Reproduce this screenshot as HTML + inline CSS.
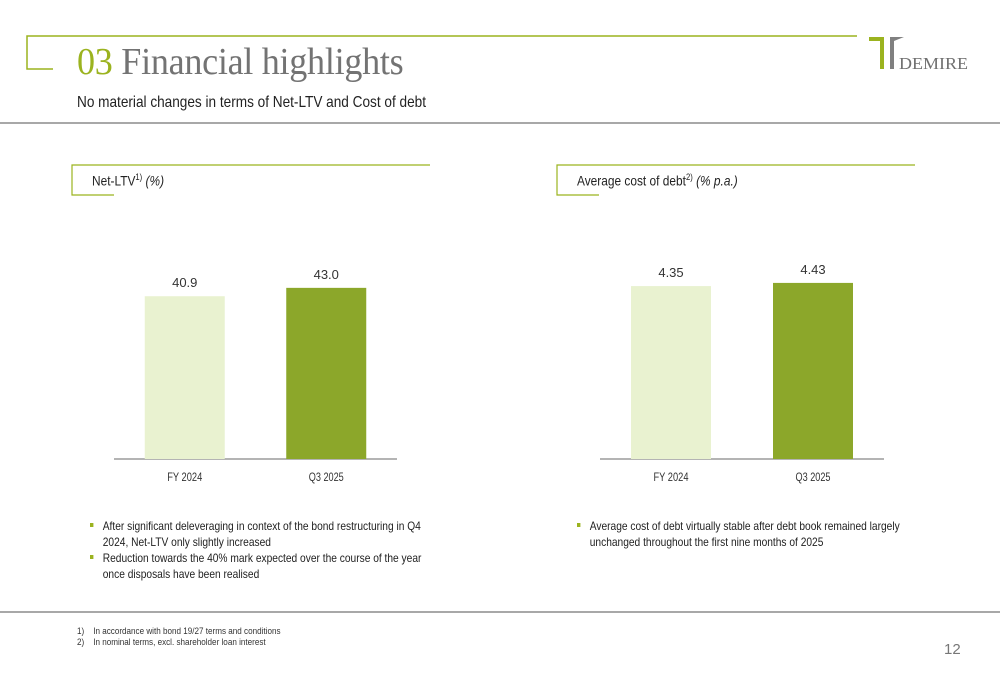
<!DOCTYPE html>
<html><head><meta charset="utf-8">
<style>
body{margin:0;width:1000px;height:685px;background:#fff;position:relative;overflow:hidden;font-family:"Liberation Sans",sans-serif;color:#222}
.abs{position:absolute}
.nar{transform:scaleX(0.85);transform-origin:0 0}
.title{left:77px;top:40px;font-family:"Liberation Serif",serif;font-size:38px;color:#737373;white-space:nowrap;letter-spacing:-0.3px;transform:scaleX(0.95);transform-origin:0 0}
.title span{color:#9bb31f}
.sub{left:77px;top:94px;font-size:16px;white-space:nowrap}
.box-title{font-size:14px;white-space:nowrap}
.bul{font-size:12px;line-height:16px}
.bul div{position:relative;padding-left:15px}
.bul div:before{content:"";position:absolute;left:0;top:5px;width:4px;height:4px;background:#9bb31f}
.foot{font-size:9px;color:#333;white-space:nowrap;transform:scaleX(0.9);transform-origin:0 0}
</style></head><body>
<svg class="abs" style="left:0;top:0" width="1000" height="685">
<polyline points="857,36 27,36 27,69 53,69" fill="none" stroke="#9bb31f" stroke-width="1.5"/>
<line x1="0" y1="123" x2="1000" y2="123" stroke="#8c8c8c" stroke-width="1.5"/>
<polyline points="430,165 72,165 72,195 114,195" fill="none" stroke="#9bb31f" stroke-width="1.2"/>
<polyline points="915,165 557,165 557,195 599,195" fill="none" stroke="#9bb31f" stroke-width="1.2"/>
<line x1="0" y1="612" x2="1000" y2="612" stroke="#8c8c8c" stroke-width="1.5"/>
<g>
<polygon points="869,37 884,37 884,69 880,69 880,41 869,41" fill="#9bb31f"/>
<polygon points="890,69 890,37 904,37 894,41 894,69" fill="#808080"/>
<text x="899" y="69" font-family="Liberation Serif,serif" font-size="17" fill="#707070" textLength="69" lengthAdjust="spacingAndGlyphs">DEMIRE</text>
</g>
</svg>
<div class="abs title"><span>03</span> Financial highlights</div>
<div class="abs sub nar">No material changes in terms of Net-LTV and Cost of debt</div>
<div class="abs box-title nar" style="left:92px;top:172px">Net-LTV<sup style="font-size:9px">1)</sup> <i>(%)</i></div>
<div class="abs box-title nar" style="left:577px;top:172px">Average cost of debt<sup style="font-size:9px">2)</sup> <i>(% p.a.)</i></div>
<svg id="charts" class="abs" style="left:0;top:0" width="1000" height="685"></svg>
<div class="abs bul nar" style="left:90px;top:518px;width:400px">
<div>After significant deleveraging in context of the bond restructuring in Q4 2024, Net-LTV only slightly increased</div>
<div>Reduction towards the 40% mark expected over the course of the year once disposals have been realised</div>
</div>
<div class="abs bul nar" style="left:577px;top:518px;width:390px">
<div>Average cost of debt virtually stable after debt book remained largely unchanged throughout the first nine months of 2025</div>
</div>
<div class="abs foot" style="left:77px;top:626px">1)&nbsp;&nbsp;&nbsp;&nbsp;In accordance with bond 19/27 terms and conditions</div>
<div class="abs foot" style="left:77px;top:637px">2)&nbsp;&nbsp;&nbsp;&nbsp;In nominal terms, excl. shareholder loan interest</div>
<div class="abs" style="left:944px;top:641px;font-size:15px;color:#777">12</div>
<script>
const categories = ["FY 2024", "Q3 2025"];
const ltvValues = [40.9, 43.0];
const ltvLabels = ["40.9", "43.0"];
const codValues = [4.35, 4.43];
const codLabels = ["4.35", "4.43"];
const colors = ["#e9f2d0", "#8ca72a"];
const NS = "http://www.w3.org/2000/svg";
const svg = document.getElementById("charts");
function mk(tag, attrs){const e=document.createElementNS(NS,tag);for(const k in attrs)e.setAttribute(k,attrs[k]);svg.appendChild(e);return e;}
function drawChart(name, vals, labels, x0, x1, baseY, pxPerUnit){
  const yScale = v => baseY - v * pxPerUnit;
  const slot = (x1 - x0) / categories.length;
  const bw = 80;
  const ax = mk("line",{x1:x0,y1:baseY,x2:x1,y2:baseY,stroke:"#888","stroke-width":1.2});
  
  
  categories.forEach((c,i)=>{
    const cx = x0 + slot*(i+0.5);
    const top = yScale(vals[i]);
    const r = mk("rect",{x:cx-bw/2,y:top,width:bw,height:baseY-top,fill:colors[i]});
    
    
    const t = mk("text",{x:cx,y:top-9,"text-anchor":"middle","font-size":13,fill:"#333","font-family":"Liberation Sans,sans-serif"});
    t.textContent = labels[i];
    
    
    const l = mk("text",{x:cx,y:baseY+22,"text-anchor":"middle","font-size":12,fill:"#333","font-family":"Liberation Sans,sans-serif",textLength:35,lengthAdjust:"spacingAndGlyphs"});
    l.textContent = c;
    
    
  });
}
drawChart("net-ltv", ltvValues, ltvLabels, 114, 397, 459, 3.98);
drawChart("cost-of-debt", codValues, codLabels, 600, 884, 459, 39.75);
</script>
</body></html>
